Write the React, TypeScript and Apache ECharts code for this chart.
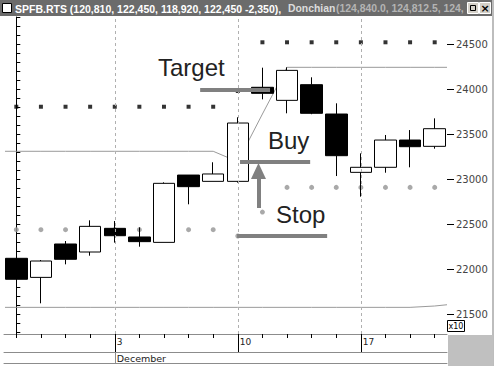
import React, { useEffect, useRef } from 'react';
import * as echarts from 'echarts';

// Trading days (Nov 27 – Dec 20)
const days = ['27', '28', '29', '30', '3', '4', '5', '6', '7', '10', '11', '12', '13', '14', '17', '18', '19', '20'];
const labelIdx = [4, 9, 14];
const monthIdx = 4;
const monthName = 'December';

// [open, close, low, high]
const ohlc = [
  [22119, 21886, 21848, 22167],
  [21907, 22089, 21619, 22100],
  [22278, 22108, 22052, 22311],
  [22189, 22474, 22148, 22541],
  [22452, 22370, 22293, 22533],
  [22356, 22304, 22248, 22463],
  [22296, 22952, 22296, 22963],
  [23044, 22915, 22719, 23044],
  [22974, 23056, 22974, 23186],
  [22974, 23622, 22960, 23686],
  [24019, 23952, 23885, 24237],
  [23874, 24207, 23730, 24241],
  [24048, 23730, 23720, 24130],
  [23722, 23259, 23033, 23841],
  [23074, 23130, 22804, 23285],
  [23130, 23433, 23070, 23489],
  [23433, 23359, 23130, 23544],
  [23363, 23559, 23337, 23674],
];

const upperLine = [23308, 23308, 23308, 23308, 23308, 23308, 23308, 23308, 23308, 23192, 23722, 24241, 24241, 24241, 24241, 24241, 24241, 24241];
const lowerLine = [21574, 21574, 21574, 21574, 21574, 21574, 21574, 21574, 21574, 21574, 21574, 21574, 21574, 21574, 21574, 21574, 21574, 21589];
const lowerLineEnd = 21603;

const targetDots = [23803, 23803, 23803, 23803, 23803, 23803, 23803, 23803, 23803, 23978, 24519, 24519, 24519, 24519, 24519, 24519, 24519, 24519];
const stopDots = [22437, 22437, 22437, 22437, 22437, 22437, 22437, 22437, 22437, 22367, 22633, 22907, 22907, 22907, 22907, 22907, 22907, 22907];

const yLabels = [21500, 22000, 22500, 23000, 23500, 24000, 24500];
const yMinorTicks = [21300, 21400, 21500, 21600, 21700, 21800, 21900, 22000, 22100, 22200, 22300, 22400, 22500, 22600, 22700, 22800, 22900, 23000, 23100, 23200, 23300, 23400, 23500, 23600, 23700, 23800, 23900, 24000, 24100, 24200, 24300, 24400, 24500, 24600, 24700, 24800];
const yMin = 21278;
const yMax = 24800;

// annotation levels
const targetLevel = 23987;
const buyLevel = 23192;
const stopLevel = 22367;
const targetSpan = [7.47, 10.31];
const buySpan = [9.09, 11.94];
const stopSpan = [8.97, 12.63];
const arrowX = 9.84;
const arrowFrom = 22678;
const arrowTo = 23089;

const headerMain = 'SPFB.RTS (120,810, 122,450, 118,920, 122,450 -2,350),';
const headerStudy = 'Donchian';
const headerStudyVals = '(124,840.0, 124,812.5, 124,';

export default function App() {
  const ref = useRef<HTMLDivElement>(null);
  useEffect(() => {
    const chart = echarts.init(ref.current!, null, { renderer: 'svg' });
    const edgeL = -0.46;
    const edgeR = 17.5;
    const upperData = [[edgeL, upperLine[0]], ...upperLine.map((v, i) => [i, v]), [edgeR, upperLine[upperLine.length - 1]]];
    const lowerData = [[edgeL, lowerLine[0]], ...lowerLine.map((v, i) => [i, v]), [edgeR, lowerLineEnd]];
    const annStyle = { color: '#808080', width: 4, type: 'solid' as const };
    const hdrFontMain = 'bold 10.5px "Liberation Sans", Arial';
    const hdrFont = 'bold 10.4px "Liberation Sans", Arial';

    chart.setOption({
      animation: false,
      grid: { left: 4, right: 53, top: 17, bottom: 32, containLabel: false, outerBoundsMode: 'none' },
      xAxis: [
        {
          type: 'category', data: days, boundaryGap: true, position: 'bottom',
          axisLine: { show: true, lineStyle: { color: '#8c8c8c', width: 1 } },
          axisTick: { show: true, alignWithLabel: true, interval: 0, length: 4, lineStyle: { color: '#000' } },
          axisLabel: {
            interval: (i: number) => labelIdx.includes(i), align: 'left', margin: 3, padding: [0, 0, 0, 2],
            fontFamily: 'DejaVu Sans', fontSize: 9, color: '#222',
          },
          splitLine: { show: false },
        },
        {
          type: 'category', data: days, boundaryGap: true, position: 'bottom',
          axisLine: { show: false },
          axisTick: { show: true, alignWithLabel: true, interval: (i: number) => labelIdx.includes(i), length: 18, lineStyle: { color: '#000' } },
          axisLabel: { show: false },
        },
        {
          type: 'category', data: days, boundaryGap: true, position: 'bottom', offset: 18,
          axisLine: { show: true, lineStyle: { color: '#8c8c8c' } },
          axisTick: { show: true, alignWithLabel: true, interval: (i: number) => i === monthIdx, length: 11, lineStyle: { color: '#8c8c8c' } },
          axisLabel: {
            interval: (i: number) => i === monthIdx, formatter: () => monthName, align: 'left', margin: 1, padding: [0, 0, 0, 2],
            fontFamily: 'DejaVu Sans', fontSize: 9.5, color: '#222',
          },
        },
        {
          type: 'category', data: days, boundaryGap: true, position: 'bottom', offset: 29,
          axisLine: { show: true, lineStyle: { color: '#8c8c8c' } },
          axisTick: { show: false }, axisLabel: { show: false },
        },
        { type: 'value', min: -0.5, max: 17.5, show: false, position: 'bottom' },
      ],
      yAxis: [
        {
          type: 'value', position: 'right', min: yMin, max: yMax,
          axisLine: { show: true, lineStyle: { color: '#000' } },
          axisTick: { show: true, length: 4, customValues: yMinorTicks, lineStyle: { color: '#000' } },
          axisLabel: { show: false },
          splitLine: { show: false },
        },
        {
          type: 'value', position: 'right', min: yMin, max: yMax,
          axisLine: { show: false },
          axisTick: { show: true, length: 7, customValues: yLabels, lineStyle: { color: '#000' } },
          axisLabel: {
            show: true, customValues: yLabels, margin: 9, fontFamily: 'DejaVu Sans', fontSize: 10, color: '#444',
            formatter: (v: number) => String(v),
          },
          splitLine: { show: false },
        },
      ],
      series: [
        {
          type: 'line', xAxisIndex: 4, yAxisIndex: 0, data: lowerData, symbol: 'none',
          lineStyle: { color: '#9a9a9a', width: 1 }, z: 1,
          markLine: {
            silent: true, symbol: 'none', label: { show: false },
            lineStyle: { color: '#b0b0b0', width: 1, type: [3, 3] },
            data: labelIdx.map((i) => ({ xAxis: i })),
          },
        },
        {
          type: 'line', xAxisIndex: 4, yAxisIndex: 0, data: upperData, symbol: 'none',
          lineStyle: { color: '#9a9a9a', width: 1 }, z: 1,
        },
        {
          type: 'scatter', xAxisIndex: 4, yAxisIndex: 0, data: stopDots.map((v, i) => [i, v]),
          symbol: 'circle', symbolSize: 5, itemStyle: { color: '#939393' }, z: 2,
        },
        {
          type: 'scatter', xAxisIndex: 4, yAxisIndex: 0, data: targetDots.map((v, i) => [i, v]),
          symbol: 'rect', symbolSize: 4, itemStyle: { color: '#000' }, z: 2,
        },
        {
          type: 'candlestick', xAxisIndex: 0, yAxisIndex: 0, data: ohlc, barWidth: 22, z: 3,
          itemStyle: { color: '#fff', color0: '#000', borderColor: '#000', borderColor0: '#000', borderWidth: 1 },
        },
        {
          type: 'line', xAxisIndex: 4, yAxisIndex: 0, data: [], z: 10,
          markLine: {
            silent: true, symbol: 'none', label: { show: false }, z: 10,
            data: [
              [{ coord: [targetSpan[0], targetLevel], lineStyle: annStyle }, { coord: [targetSpan[1], targetLevel] }],
              [{ coord: [buySpan[0], buyLevel], lineStyle: annStyle }, { coord: [buySpan[1], buyLevel] }],
              [{ coord: [stopSpan[0], stopLevel], lineStyle: annStyle }, { coord: [stopSpan[1], stopLevel] }],
              [
                { coord: [arrowX, arrowFrom], symbol: 'none', lineStyle: annStyle },
                { coord: [arrowX, arrowTo], symbol: 'triangle', symbolSize: [15, 16] },
              ],
            ],
          },
        },
      ],
      graphic: [
        { type: 'rect', shape: { x: 0, y: 0, width: 493, height: 16 }, style: { fill: '#6b6b6b' }, z: 100 },
        { type: 'rect', shape: { x: 2.5, y: 3.5, width: 9, height: 9 }, style: { fill: '#fff', stroke: '#000', lineWidth: 1 }, z: 101 },
        { type: 'text', x: 15, y: 8.5, z: 101, style: { text: headerMain, font: hdrFontMain, fill: '#ffffff', textVerticalAlign: 'middle' } },
        { type: 'text', x: 288, y: 8.5, z: 101, style: { text: headerStudy, font: hdrFont, fill: '#dcdcdc', textVerticalAlign: 'middle' } },
        { type: 'text', x: 336, y: 8.5, z: 101, style: { text: headerStudyVals, font: hdrFont, fill: '#b4b4b4', textVerticalAlign: 'middle' } },
        { type: 'rect', shape: { x: 467.5, y: 2.5, width: 11, height: 11 }, style: { fill: '#d4d0c8', stroke: '#ffffff', lineWidth: 1 }, z: 102 },
        { type: 'rect', shape: { x: 470.5, y: 5.5, width: 5, height: 5 }, style: { fill: 'none', stroke: '#000', lineWidth: 1 }, z: 103 },
        { type: 'rect', shape: { x: 479.5, y: 2.5, width: 11, height: 11 }, style: { fill: '#d4d0c8', stroke: '#ffffff', lineWidth: 1 }, z: 102 },
        { type: 'text', x: 485, y: 8, z: 103, style: { text: '×', font: 'bold 11px "DejaVu Sans"', fill: '#000', textAlign: 'center', textVerticalAlign: 'middle' } },
        { type: 'rect', shape: { x: 492, y: 0, width: 2, height: 366 }, style: { fill: '#bdbdbd' }, z: 100 },
        { type: 'rect', shape: { x: 448, y: 335, width: 45, height: 31 }, style: { fill: '#c0c0c0' }, z: 100 },
        { type: 'rect', shape: { x: 447.5, y: 320.5, width: 17, height: 11 }, style: { fill: '#fff', stroke: '#000', lineWidth: 1 }, z: 100 },
        { type: 'text', x: 456, y: 326.5, z: 101, style: { text: 'x10', font: '8px "DejaVu Sans"', fill: '#000', textAlign: 'center', textVerticalAlign: 'middle' } },
        { type: 'text', x: 158, y: 67, z: 50, style: { text: 'Target', font: '24px "Liberation Sans", Arial', fill: '#222', textVerticalAlign: 'middle' } },
        { type: 'text', x: 268, y: 140.5, z: 50, style: { text: 'Buy', font: '24px "Liberation Sans", Arial', fill: '#222', textVerticalAlign: 'middle' } },
        { type: 'text', x: 276, y: 214, z: 50, style: { text: 'Stop', font: '24px "Liberation Sans", Arial', fill: '#222', textVerticalAlign: 'middle' } },
      ],
    });
    return () => chart.dispose();
  }, []);
  return <div ref={ref} style={{ position: 'absolute', left: 0, top: 0, width: 500, height: 366, background: '#fff' }} />;
}
